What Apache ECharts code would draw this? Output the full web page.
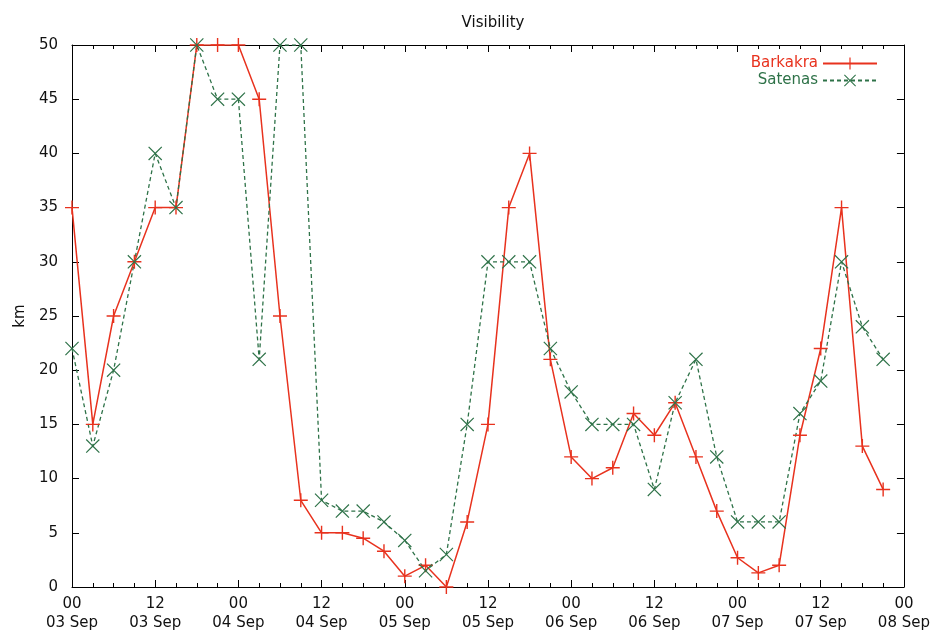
<!DOCTYPE html>
<html>
<head>
<meta charset="utf-8">
<script src="https://cdn.jsdelivr.net/npm/echarts@6/dist/echarts.min.js"></script>
<style>
  html, body { margin: 0; padding: 0; background: #fff; }
  #main { width: 933px; height: 633px; }
</style>
</head>
<body>
<div id="main"></div>
<script>
// hours since 00 UTC 03 Sep
var hours = [0, 3, 6, 9, 12, 15, 18, 21, 24, 27, 30, 33, 36, 39, 42, 45, 48, 51, 54, 57,
  60, 63, 66, 69, 72, 75, 78, 81, 84, 87, 90, 93, 96, 99, 102, 105, 108, 111, 114, 117];
var barkakra = [35, 15, 25, 30, 35, 35, 50, 50, 50, 45, 25, 8, 5, 5, 4.5, 3.3, 1, 2, 0, 6,
  15, 35, 40, 21, 12, 10, 11, 16, 14, 17, 12, 7, 2.7, 1.3, 2, 14, 22, 35, 13, 9];
var satenas = [22, 13, 20, 30, 40, 35, 50, 45, 45, 21, 50, 50, 8, 7, 7, 6, 4.3, 1.5, 3, 15,
  30, 30, 30, 22, 18, 15, 15, 15, 9, 17, 21, 12, 6, 6, 6, 16, 19, 30, 24, 21];
var tickLabels = ['00\n03 Sep', '12\n03 Sep', '00\n04 Sep', '12\n04 Sep', '00\n05 Sep', '12\n05 Sep',
  '00\n06 Sep', '12\n06 Sep', '00\n07 Sep', '12\n07 Sep', '00\n08 Sep'];

var plusPath = 'path://M4.5,0L5.5,0L5.5,4.5L10,4.5L10,5.5L5.5,5.5L5.5,10L4.5,10L4.5,5.5L0,5.5L0,4.5L4.5,4.5Z';
var crossPath = 'path://M0,0.6L0.6,0L5,4.4L9.4,0L10,0.6L5.6,5L10,9.4L9.4,10L5,5.6L0.6,10L0,9.4L4.4,5Z';

var red = '#e8321e';
var green = '#2e7248';
var font = 'DejaVu Sans, sans-serif';

function pairs(xs, ys) {
  return xs.map(function (x, i) { return [x, ys[i]]; });
}

var chart = echarts.init(document.getElementById('main'), null, { renderer: 'canvas' });

var xCommon = {
  type: 'value',
  min: 0,
  max: 120,
  interval: 12,
  axisLine: { show: true, onZero: false, lineStyle: { color: '#000', width: 1 } },
  axisTick: { show: true, inside: true, length: 7, lineStyle: { color: '#000' } },
  minorTick: { show: true, splitNumber: 4, length: 4, lineStyle: { color: '#000' } },
  splitLine: { show: false },
  minorSplitLine: { show: false }
};
var yCommon = {
  type: 'value',
  min: 0,
  max: 50,
  interval: 5,
  axisLine: { show: true, onZero: false, lineStyle: { color: '#000', width: 1 } },
  axisTick: { show: true, inside: true, length: 7, lineStyle: { color: '#000' } },
  splitLine: { show: false }
};

var option = {
  backgroundColor: '#fff',
  animation: false,
  title: {
    text: 'Visibility',
    left: 488,
    top: 11,
    textAlign: 'center',
    textStyle: { fontFamily: font, fontSize: 15, fontWeight: 'normal', color: '#111' }
  },
  legend: {
    orient: 'vertical',
    right: 55,
    top: 56,
    padding: 0,
    align: 'right',
    itemWidth: 54,
    itemHeight: 15,
    itemGap: 2,
    textStyle: { fontFamily: font, fontSize: 15 },
    data: [
      { name: 'Barkakra', textStyle: { color: red } },
      { name: 'Satenas', textStyle: { color: green } }
    ]
  },
  grid: { left: 72, right: 28, top: 45, bottom: 46 },
  xAxis: [
    Object.assign({}, xCommon, {
      position: 'bottom',
      axisLabel: {
        show: true,
        margin: 8,
        fontFamily: font,
        fontSize: 15,
        lineHeight: 19,
        color: '#111',
        formatter: function (v) { return tickLabels[Math.round(v / 12)]; }
      }
    }),
    Object.assign({}, xCommon, { position: 'top', axisLabel: { show: false } })
  ],
  yAxis: [
    Object.assign({}, yCommon, {
      position: 'left',
      name: 'km',
      nameLocation: 'middle',
      nameGap: 44,
      nameRotate: 90,
      nameTextStyle: { fontFamily: font, fontSize: 15, color: '#111' },
      axisLabel: { show: true, margin: 14, fontFamily: font, fontSize: 15, color: '#111' }
    }),
    Object.assign({}, yCommon, { position: 'right', axisLabel: { show: false } })
  ],
  series: [
    {
      name: 'Barkakra',
      type: 'line',
      data: pairs(hours, barkakra),
      symbol: plusPath,
      symbolSize: 14,
      showAllSymbol: true,
      color: red,
      itemStyle: { color: red },
      lineStyle: { color: red, width: 1.5 }
    },
    {
      name: 'Satenas',
      type: 'line',
      data: pairs(hours, satenas),
      symbol: crossPath,
      symbolSize: 14,
      showAllSymbol: true,
      color: green,
      itemStyle: { color: green },
      lineStyle: { color: green, width: 1.3, type: [4, 3] }
    }
  ]
};

chart.setOption(option);
</script>
</body>
</html>
